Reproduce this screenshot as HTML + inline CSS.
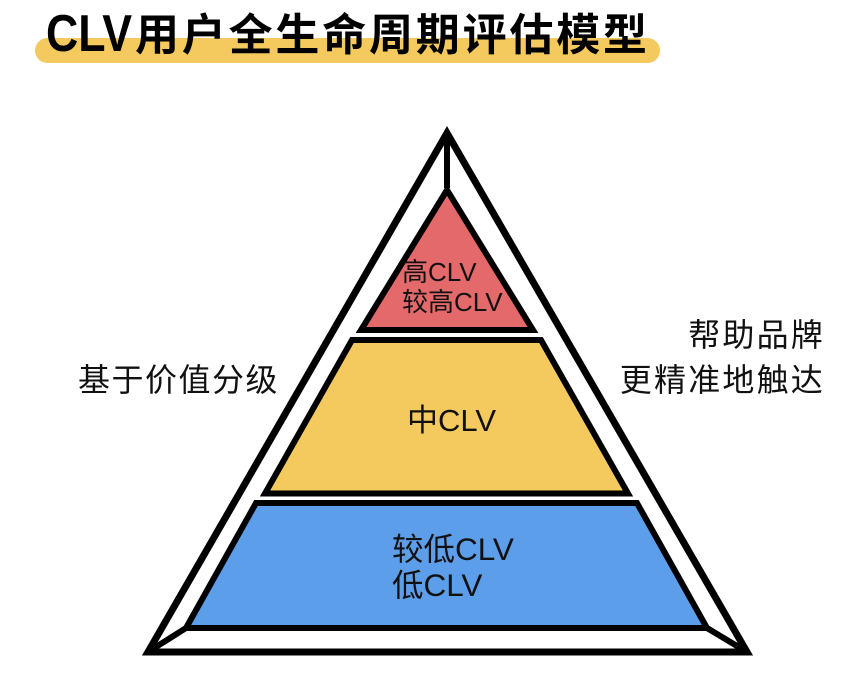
<!DOCTYPE html>
<html>
<head>
<meta charset="utf-8">
<style>
html,body{margin:0;padding:0;background:#fff;}
svg{display:block;}
</style>
</head>
<body>
<svg width="864" height="674" viewBox="0 0 864 674" xmlns="http://www.w3.org/2000/svg">
  <rect x="0" y="0" width="864" height="674" fill="#ffffff"/>
  <!-- title highlight -->
  <rect x="35" y="38" width="625" height="25" rx="12.5" ry="12.5" fill="#f4c95d"/>
  <text x="46" y="51" font-family="Liberation Sans, sans-serif" font-weight="700" font-size="52" textLength="86" lengthAdjust="spacingAndGlyphs" fill="#000">CLV</text>
  <text x="135" y="50" font-family="Liberation Sans, 'Noto Sans CJK SC', sans-serif" font-weight="700" font-size="44" textLength="512" lengthAdjust="spacing" fill="#000">用户全生命周期评估模型</text>

  <!-- outer triangle -->
  <polygon points="447,133 148,652 747,652" fill="#fff" stroke="#000" stroke-width="7" stroke-linejoin="miter" stroke-miterlimit="10"/>
  <!-- bevel lines -->
  <line x1="447" y1="133" x2="447" y2="188" stroke="#000" stroke-width="6"/>
  <line x1="148" y1="652" x2="186" y2="628" stroke="#000" stroke-width="6"/>
  <line x1="747" y1="652" x2="707" y2="628" stroke="#000" stroke-width="6"/>

  <!-- red triangle -->
  <polygon points="447,190 361,330 533,330" fill="#e4696a" stroke="#000" stroke-width="6" stroke-linejoin="miter" stroke-miterlimit="10"/>
  <!-- yellow trapezoid -->
  <polygon points="352,340 541,340 628,493.5 265,493.5" fill="#f4c95d" stroke="#000" stroke-width="6" stroke-linejoin="miter" stroke-miterlimit="10"/>
  <!-- blue trapezoid -->
  <polygon points="256,503 637,503 707,628 186,628" fill="#5d9eea" stroke="#000" stroke-width="6" stroke-linejoin="miter" stroke-miterlimit="10"/>

  <!-- inner labels -->
  <g font-family="Liberation Sans, 'Noto Sans CJK SC', sans-serif" fill="#111">
    <text x="402" y="281" font-size="26">高CLV</text>
    <text x="402" y="311" font-size="26">较高CLV</text>
    <text x="407" y="431" font-size="31">中CLV</text>
    <text x="392" y="560" font-size="31.5">较低CLV</text>
    <text x="392" y="596" font-size="31.5">低CLV</text>
  </g>

  <!-- side labels -->
  <g font-family="Liberation Sans, 'Noto Sans CJK SC', sans-serif" fill="#111" font-size="32">
    <text x="78" y="391" letter-spacing="1.5">基于价值分级</text>
    <text x="825" y="346" text-anchor="end" letter-spacing="2.2">帮助品牌</text>
    <text x="825" y="391" text-anchor="end" letter-spacing="2.2">更精准地触达</text>
  </g>
</svg>
</body>
</html>
